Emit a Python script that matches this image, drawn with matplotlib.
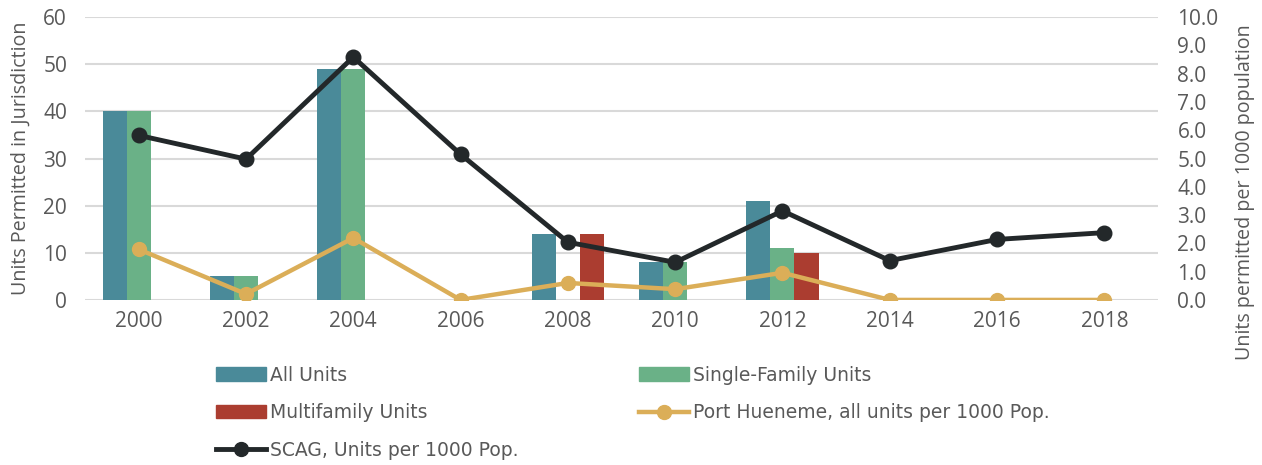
import numpy as np
import matplotlib.pyplot as plt
from matplotlib.patches import Patch
from matplotlib.lines import Line2D

# ============================================================
# DATA
# ============================================================

years = ["2000", "2002", "2004", "2006", "2008", "2010", "2012", "2014", "2016", "2018"]
all_units = [40, 5, 49, 0, 14, 8, 21, 0, 0, 0]
single_family = [40, 5, 49, 0, 0, 8, 11, 0, 0, 0]
multifamily = [0, 0, 0, 0, 14, 0, 10, 0, 0, 0]
port_hueneme_rate = [1.79, 0.21, 2.19, 0.0, 0.60, 0.38, 0.96, 0.0, 0.0, 0.0]
scag_rate = [5.82, 4.98, 8.59, 5.15, 2.04, 1.33, 3.15, 1.39, 2.14, 2.38]

# ============================================================
# STYLE
# ============================================================

C_ALL = "#4A8A99"
C_SF = "#6AB187"
C_MF = "#AB3D30"
C_PH = "#DBAE58"
C_SCAG = "#23282A"
TXT = "#595959"
GRID = "#D9D9D9"

plt.rcParams["font.family"] = ["Open Sans", "DejaVu Sans"]

fig = plt.figure(figsize=(12.62, 4.65), dpi=100)
ax1 = fig.add_axes([0.0674, 0.355, 0.8502, 0.608])
ax2 = ax1.twinx()

x = np.arange(len(years))
w = 0.224

ax1.bar(x - w, all_units, w, color=C_ALL, zorder=2)
ax1.bar(x, single_family, w, color=C_SF, zorder=2)
ax1.bar(x + w, multifamily, w, color=C_MF, zorder=2)

ax2.plot(x, port_hueneme_rate, color=C_PH, lw=3.2, marker="o", ms=10, zorder=3)
ax2.plot(x, scag_rate, color=C_SCAG, lw=3.5, marker="o", ms=10.5, zorder=4)

ax1.set_xlim(-0.5, len(years) - 0.5)
ax1.set_ylim(0, 60)
ax2.set_ylim(0, 10)
ax1.set_yticks(range(0, 61, 10))
ax2.set_yticks(np.arange(0, 10.01, 1))
ax2.set_yticklabels([f"{v:.1f}" for v in np.arange(0, 10.01, 1)])
ax1.set_xticks(x)
ax1.set_xticklabels(years)

ax1.yaxis.grid(True, color=GRID, lw=1.5, zorder=0)
ax1.set_axisbelow(True)

for ax in (ax1, ax2):
    for s in ax.spines.values():
        s.set_visible(False)
    ax.tick_params(length=0, labelsize=15, colors=TXT, pad=13)
ax1.tick_params(axis="x", pad=8)
ax2.tick_params(axis="y", pad=14)

ax1.set_ylabel("Units Permitted in Jurisdiction", fontsize=14.2, color=TXT)
ax1.yaxis.set_label_coords(-0.051, 0.5)
ax2.set_ylabel("Units permitted per 1000 population", fontsize=14.2, color=TXT)
ax2.yaxis.set_label_coords(1.072, 0.383)

# ============================================================
# LEGEND
# ============================================================

h_all = Patch(color=C_ALL)
h_sf = Patch(color=C_SF)
h_mf = Patch(color=C_MF)
h_ph = Line2D([], [], color=C_PH, lw=3.2, marker="o", ms=10)
h_scag = Line2D([], [], color=C_SCAG, lw=3.5, marker="o", ms=10)

handles = [h_all, h_mf, h_scag, h_sf, h_ph]
labels = ["All Units", "Multifamily Units", "SCAG, Units per 1000 Pop.",
          "Single-Family Units", "Port Hueneme, all units per 1000 Pop."]
fig.legend(handles, labels, ncol=2, loc="upper left", bbox_to_anchor=(0.165, 0.23),
           frameon=False, handlelength=2.7, handleheight=0.7, handletextpad=0.2,
           columnspacing=6.4, labelspacing=1.0, borderaxespad=0,
           prop={"family": ["DejaVu Sans"], "size": 13.5},
           labelcolor=TXT)

fig.savefig("out.png", dpi=100)
